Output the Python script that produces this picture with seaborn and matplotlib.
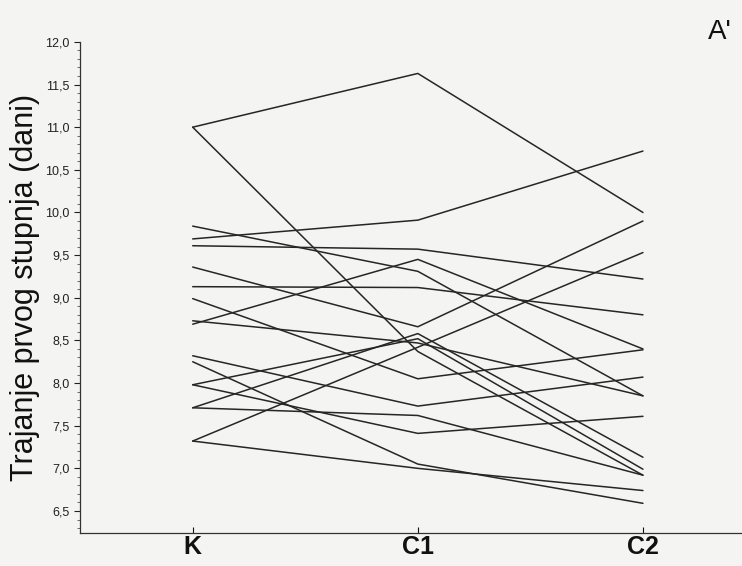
import pandas as pd
import numpy as np
import matplotlib
matplotlib.use('Agg')
import matplotlib.pyplot as plt
import seaborn as sns
from matplotlib.ticker import FuncFormatter, MultipleLocator

# Trajanje prvog stupnja (dani) per ispitanik: K, C1, C2
phases = ['K', 'C1', 'C2']
k_vals = [11.0, 11.0, 9.84, 9.69, 9.61, 9.36, 9.13, 8.99, 8.73,
          8.69, 8.32, 8.25, 7.98, 7.98, 7.71, 7.71, 7.32, 7.32]
c1_vals = [11.63, 8.37, 9.31, 9.91, 9.57, 8.66, 9.12, 8.05, 8.47,
           9.45, 7.73, 7.05, 8.52, 7.41, 8.58, 7.62, 8.42, 7.00]
c2_vals = [10.0, 6.92, 7.85, 10.72, 9.22, 9.90, 8.80, 8.39, 7.85,
           8.40, 8.07, 6.59, 6.99, 7.61, 7.13, 6.92, 9.53, 6.74]

rows = []
for i in range(len(k_vals)):
    for j, v in enumerate([k_vals[i], c1_vals[i], c2_vals[i]]):
        rows.append({'subject': i, 'phase': j, 'value': v})
df = pd.DataFrame(rows)

sns.set_style('ticks')
plt.rcParams['font.family'] = ['Liberation Sans', 'DejaVu Sans']

bg = '#f4f4f3'
fig = plt.figure(figsize=(7.42, 5.66), dpi=100, facecolor=bg)
ax = fig.add_axes([0.108, 0.058, 0.892, 0.868], facecolor=bg)

sns.lineplot(data=df, x='phase', y='value', units='subject', estimator=None,
             color='#262626', linewidth=1.1, ax=ax)

ax.set_xlim(-0.5, 2.44)
ax.set_ylim(6.24, 12.0)
ax.set_xticks([0, 1, 2])
ax.set_xticklabels(phases, fontsize=18, fontweight='bold', color='#111111')
ax.yaxis.set_major_locator(MultipleLocator(0.5))
ax.yaxis.set_minor_locator(MultipleLocator(0.1))
ax.yaxis.set_major_formatter(FuncFormatter(lambda v, p: f'{v:.1f}'.replace('.', ',')))
ax.tick_params(axis='y', labelsize=9, colors='#222222', length=4, width=0.8)
ax.tick_params(axis='y', which='minor', length=2, width=0.6, color='#555555')
ax.tick_params(axis='x', length=4, width=0.8, direction='in', pad=1, colors='#111111')
ax.set_xlabel('')
ax.set_ylabel('Trajanje prvog stupnja (dani)', fontsize=22, color='#111111', labelpad=4)

for s in ['top', 'right']:
    ax.spines[s].set_visible(False)
for s in ['left', 'bottom']:
    ax.spines[s].set_color('#333333')
    ax.spines[s].set_linewidth(0.9)

fig.text(0.954, 0.943, "A'", fontsize=20, color='#111111', va='center', ha='left')

fig.savefig('out.png', dpi=100, facecolor=bg)
